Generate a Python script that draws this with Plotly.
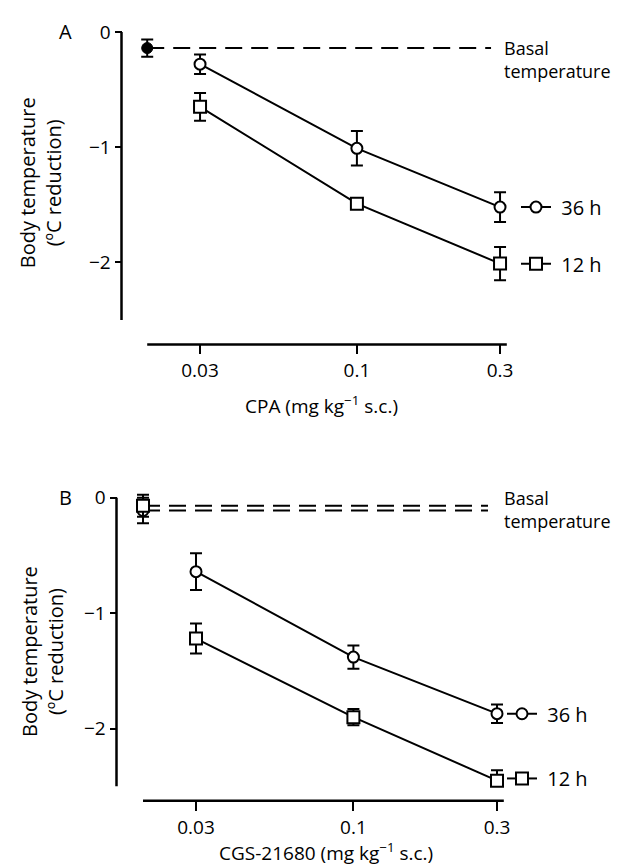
import math
import plotly.graph_objects as go

# ---------------- data ----------------
doses = [0.03, 0.1, 0.3]
dose_ticktext = ["0.03", "0.1", "0.3"]
basal_dose = 0.02          # vehicle / basal position on dose axis
basal_line_end = 0.28      # extent of the basal reference line

# Panel A: CPA
a_basal = -0.14
a_basal_err = 0.075
a_36h = [-0.28, -1.01, -1.52]
a_36h_err = [0.085, 0.15, 0.13]
a_12h = [-0.65, -1.49, -2.01]
a_12h_err = [0.12, 0.04, 0.145]

# Panel B: CGS-21680
b_basal_36h = -0.11
b_basal_36h_err = 0.11
b_basal_12h = -0.07
b_basal_12h_err = 0.095
b_36h = [-0.64, -1.38, -1.87]
b_36h_err = [0.16, 0.10, 0.08]
b_12h = [-1.22, -1.90, -2.45]
b_12h_err = [0.13, 0.07, 0.09]

y_ticks = [0, -1, -2]

# ---------------- layout helpers ----------------
W, H = 622, 866
FONT = "Open Sans"
FS = 19      # tick labels
FT = 20      # titles / labels
FB = 18      # basal temperature label


def px_x(p):
    return p / W


def px_y(p):
    return 1 - p / H


# pixel mapping of log-dose axis: px = a + b*log10(dose)
A_a, A_b = 648.9, 300.0
B_a, B_b = 646.4, 301.0
A_xrange = [(0 - A_a) / A_b, (W - A_a) / A_b]
B_xrange = [(0 - B_a) / B_b, (W - B_a) / B_b]


def dose_to_paper(d, a, b):
    return (a + b * math.log10(d)) / W


Y_RANGE = [-2.5, 0.08]
# panel A y: 0 at 20px, 115.8 px/unit ; panel B y: 0 at 488px, 116 px/unit
A_dom = [px_y(20 + 2.5 * 115.8), px_y(20 - 0.08 * 115.8)]
B_dom = [px_y(488 + 2.5 * 116.0), px_y(488 - 0.08 * 116.0)]
A_yaxis_x = px_x(113.5)
B_yaxis_x = px_x(108.5)
A_xaxis_y = px_y(334)
B_xaxis_y = px_y(792.5)

fig = go.Figure()

err_style = dict(type="data", visible=True, color="black", thickness=2, width=6)
circle_marker = dict(symbol="circle", size=11, color="white", line=dict(color="black", width=2))
square_marker = dict(symbol="square", size=12, color="white", line=dict(color="black", width=2))
dash_line = dict(color="black", width=2, dash="17px,9px")

# ---------- Panel A ----------
fig.add_trace(go.Scatter(x=[basal_dose, basal_line_end], y=[a_basal, a_basal], mode="lines",
                         line=dash_line, xaxis="x", yaxis="y", showlegend=False, hoverinfo="skip"))
fig.add_trace(go.Scatter(x=[basal_dose], y=[a_basal], mode="markers",
                         error_y=dict(array=[a_basal_err], **err_style),
                         marker=dict(symbol="circle", size=11, color="black", line=dict(color="black", width=1)),
                         xaxis="x", yaxis="y", showlegend=False, cliponaxis=False))
fig.add_trace(go.Scatter(x=doses, y=a_36h, mode="lines+markers", name="\u00a036 h",
                         line=dict(color="black", width=2), marker=circle_marker,
                         error_y=dict(array=a_36h_err, **err_style),
                         xaxis="x", yaxis="y", legend="legend", cliponaxis=False))
fig.add_trace(go.Scatter(x=doses, y=a_12h, mode="lines+markers", name="\u00a012 h",
                         line=dict(color="black", width=2), marker=square_marker,
                         error_y=dict(array=a_12h_err, **err_style),
                         xaxis="x", yaxis="y", legend="legend2", cliponaxis=False))

# ---------- Panel B ----------
fig.add_trace(go.Scatter(x=[basal_dose, basal_line_end], y=[b_basal_36h, b_basal_36h], mode="lines",
                         line=dash_line, xaxis="x2", yaxis="y2", showlegend=False, hoverinfo="skip"))
fig.add_trace(go.Scatter(x=[basal_dose, basal_line_end], y=[b_basal_12h, b_basal_12h], mode="lines",
                         line=dash_line, xaxis="x2", yaxis="y2", showlegend=False, hoverinfo="skip"))
fig.add_trace(go.Scatter(x=[basal_dose], y=[b_basal_36h], mode="markers",
                         error_y=dict(array=[b_basal_36h_err], **err_style), marker=circle_marker,
                         xaxis="x2", yaxis="y2", showlegend=False, cliponaxis=False))
fig.add_trace(go.Scatter(x=[basal_dose], y=[b_basal_12h], mode="markers",
                         error_y=dict(array=[b_basal_12h_err], **err_style), marker=square_marker,
                         xaxis="x2", yaxis="y2", showlegend=False, cliponaxis=False))
fig.add_trace(go.Scatter(x=doses, y=b_36h, mode="lines+markers", name="\u00a036 h",
                         line=dict(color="black", width=2), marker=circle_marker,
                         error_y=dict(array=b_36h_err, **err_style),
                         xaxis="x2", yaxis="y2", legend="legend3", cliponaxis=False))
fig.add_trace(go.Scatter(x=doses, y=b_12h, mode="lines+markers", name="\u00a012 h",
                         line=dict(color="black", width=2), marker=square_marker,
                         error_y=dict(array=b_12h_err, **err_style),
                         xaxis="x2", yaxis="y2", legend="legend4", cliponaxis=False))

xcommon = dict(type="log", showgrid=False, zeroline=False, showline=False, ticks="outside",
               ticklen=9, tickwidth=2, tickcolor="black", tickvals=doses, ticktext=dose_ticktext,
               tickfont=dict(family=FONT, size=FS, color="black"), anchor="free", domain=[0, 1])
ycommon = dict(showgrid=False, zeroline=False, showline=False, ticks="outside", ticklen=7,
               tickwidth=2, tickcolor="black", tickvals=y_ticks, range=Y_RANGE,
               tickfont=dict(family=FONT, size=FS, color="black"), anchor="free")

leg = dict(xanchor="left", yanchor="middle", bgcolor="rgba(0,0,0,0)", borderwidth=0,
           font=dict(family=FONT, size=FT, color="black"), itemwidth=30)

fig.update_layout(
    width=W, height=H, margin=dict(l=0, r=0, t=0, b=0),
    paper_bgcolor="white", plot_bgcolor="white",
    font=dict(family=FONT, size=FS, color="black"),
    xaxis=dict(range=A_xrange, position=A_xaxis_y, **xcommon),
    yaxis=dict(domain=A_dom, position=A_yaxis_x, **ycommon),
    xaxis2=dict(range=B_xrange, position=B_xaxis_y, **xcommon),
    yaxis2=dict(domain=B_dom, position=B_yaxis_x, **ycommon),
    legend=dict(x=px_x(536 - 28), y=px_y(196), **leg),
    legend2=dict(x=px_x(536 - 28), y=px_y(253), **leg),
    legend3=dict(x=px_x(522 - 28), y=px_y(705), **leg),
    legend4=dict(x=px_x(522 - 28), y=px_y(770), **leg),
)

# axis lines (detached, as in the original)
axis_line = dict(color="black", width=2.5)
fig.add_shape(type="line", xref="paper", yref="y", x0=A_yaxis_x, x1=A_yaxis_x, y0=0, y1=-2.5, line=axis_line)
fig.add_shape(type="line", xref="paper", yref="y2", x0=B_yaxis_x, x1=B_yaxis_x, y0=0, y1=-2.5, line=axis_line)
fig.add_shape(type="line", xref="paper", yref="paper",
              x0=dose_to_paper(basal_dose, A_a, A_b), x1=dose_to_paper(0.316, A_a, A_b),
              y0=A_xaxis_y, y1=A_xaxis_y, line=axis_line)
fig.add_shape(type="line", xref="paper", yref="paper",
              x0=dose_to_paper(basal_dose, B_a, B_b), x1=dose_to_paper(0.316, B_a, B_b),
              y0=B_xaxis_y, y1=B_xaxis_y, line=axis_line)


def ann(text, x, y, xanchor="center", yanchor="middle", angle=0, align="center", size=FT):
    fig.add_annotation(text=text, x=px_x(x), y=px_y(y), xref="paper", yref="paper",
                       xanchor=xanchor, yanchor=yanchor, showarrow=False, textangle=angle,
                       align=align, font=dict(family=FONT, size=size, color="black"))


# panel labels
ann("A", 57, 20)
ann("B", 57, 488)
# y titles
ann("Body temperature<br>(ºC reduction)", 32, 172, angle=-90)
ann("Body temperature<br>(ºC reduction)", 34, 643, angle=-90)
# x titles
ann("CPA (mg kg<sup>−1</sup> s.c.)", 313, 395, size=19)
ann("CGS-21680 (mg kg<sup>−1</sup> s.c.)", 318, 844, size=19)
# basal temperature labels
ann("Basal<br>temperature", 494, 48, xanchor="left", align="left", size=FB)
ann("Basal<br>temperature", 494, 500, xanchor="left", align="left", size=FB)

fig.write_html("out.html")
